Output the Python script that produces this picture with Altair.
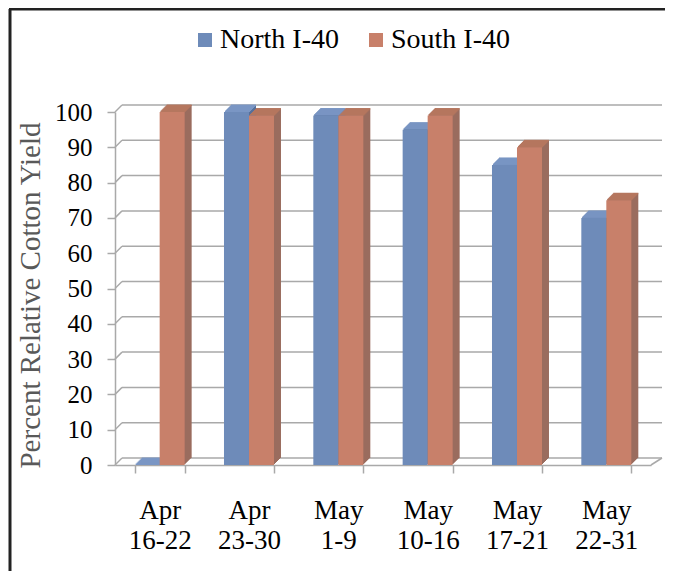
import altair as alt
import pandas as pd

categories = ["Apr 16-22", "Apr 23-30", "May 1-9", "May 10-16", "May 17-21", "May 22-31"]
series = ["North I-40", "South I-40"]
north = [0, 100, 99, 95, 85, 70]
south = [100, 99, 99, 99, 90, 75]
y_ticks = [0, 10, 20, 30, 40, 50, 60, 70, 80, 90, 100]

rows = []
for c, n, s in zip(categories, north, south):
    rows.append({"cat": c, "series": series[0], "value": n})
    rows.append({"cat": c, "series": series[1], "value": s})
df = pd.DataFrame(rows)
grid = pd.DataFrame({"t": y_ticks})
one = pd.DataFrame({"a": [0]})

W, H = 536, 353
DEPTH = 7
GROUP = 50
FONT = "Liberation Serif"
GRID_C = "#a9a9a9"

BLUE, ORANGE = "#6e8bb9", "#c8806a"
BLUE_TOP, ORANGE_TOP = "#7a96c4", "#b5775f"
BLUE_SIDE, ORANGE_SIDE = "#56709a", "#9a6c5e"

is_north = f"datum.series === '{series[0]}'"

yscale = alt.Scale(domain=[0, 100], nice=False, zero=True)
xscale = alt.Scale(paddingInner=0.44, paddingOuter=0.22)

x_axis = alt.Axis(
    title=None, tickBand="extent", labelExpr="split(datum.label, ' ')",
    labelLineHeight=30, labelPadding=24, labelAngle=0, grid=False,
)
y_axis = alt.Axis(
    title="Percent Relative Cotton Yield", values=y_ticks, grid=False,
    labelOverlap=False,
    titleX=-85, titleY=183, titleBaseline="middle", titleAngle=270,
)

base = alt.Chart(df)

def xo(k):
    return alt.XOffset("series:N", sort=series, scale=alt.Scale(range=[k, GROUP + k]))

layers = []

# back wall grid lines
layers.append(
    alt.Chart(grid).mark_rule(color=GRID_C, strokeWidth=1.5, yOffset=-DEPTH).encode(
        y=alt.Y("t:Q", scale=yscale, axis=y_axis),
        x=alt.value(DEPTH), x2=alt.value(W + 11),
    )
)
layers.append(
    alt.Chart(grid).mark_rule(color=GRID_C, strokeWidth=1.5, yOffset=0, y2Offset=-DEPTH).encode(
        y=alt.Y("t:Q", scale=yscale, axis=y_axis), y2="t:Q",
        x=alt.value(0), x2=alt.value(DEPTH),
    )
)
layers.append(
    alt.Chart(grid).transform_filter("datum.t === 0").mark_rule(
        color=GRID_C, strokeWidth=1.5, yOffset=0, y2Offset=-DEPTH).encode(
        y=alt.Y("t:Q", scale=yscale, axis=y_axis), y2="t:Q",
        x=alt.value(W), x2=alt.value(W + 11),
    )
)

# side faces
for k in range(1, DEPTH + 1):
    layers.append(
        base.mark_bar(yOffset=-k, y2Offset=-k).encode(
            x=alt.X("cat:N", sort=categories, scale=xscale, axis=x_axis),
            xOffset=xo(k),
            y=alt.Y("value:Q", scale=yscale, axis=y_axis),
            color=alt.condition(is_north, alt.value(BLUE_SIDE), alt.value(ORANGE_SIDE)),
        )
    )
# top faces
for k in range(1, DEPTH + 1):
    layers.append(
        base.mark_bar(yOffset=-k - 0.5, y2Offset=-k + 1).encode(
            x=alt.X("cat:N", sort=categories, scale=xscale, axis=x_axis),
            xOffset=xo(k),
            y=alt.Y("value:Q", scale=yscale, axis=y_axis),
            y2="value:Q",
            color=alt.condition(is_north, alt.value(BLUE_TOP), alt.value(ORANGE_TOP)),
        )
    )
# front faces
layers.append(
    base.mark_bar().encode(
        x=alt.X("cat:N", sort=categories, scale=xscale, axis=x_axis),
        xOffset=xo(0),
        y=alt.Y("value:Q", scale=yscale, axis=y_axis),
        color=alt.Color(
            "series:N", sort=series,
            scale=alt.Scale(domain=series, range=[BLUE, ORANGE]),
            legend=alt.Legend(
                orient="none", legendX=76, legendY=-86, direction="horizontal",
                title=None, symbolType="square", symbolSize=196, symbolStrokeWidth=0,
                labelFont=FONT, labelFontSize=28, labelColor="black", labelOffset=1,
                columnPadding=23, padding=0,
            ),
        ),
    )
)

# outer frame (left and top)
layers.append(
    alt.Chart(one).mark_rule(color="#222222", strokeWidth=3).encode(
        x=alt.value(-105), y=alt.value(-103), y2=alt.value(470)
    )
)
layers.append(
    alt.Chart(one).mark_rule(color="#222222", strokeWidth=3).encode(
        x=alt.value(-106), x2=alt.value(W + 20), y=alt.value(-103)
    )
)

chart = alt.layer(*layers).resolve_scale(xOffset="independent").properties(
    width=W, height=H,
    autosize=alt.AutoSizeParams(type="none"),
    padding={"left": 107, "top": 104, "right": 14, "bottom": 106},
    background="white",
).configure_view(stroke=None).configure_axis(
    labelFont=FONT, titleFont=FONT, labelColor="black",
    tickSize=8, tickColor=GRID_C, tickWidth=1.5,
    domainColor=GRID_C, domainWidth=1.5,
).configure_axisX(
    labelFontSize=27,
).configure_axisY(
    labelFontSize=25, labelPadding=15,
    titleFontSize=29, titleColor="#595959", titleFontWeight="normal",
)

chart.save("out.html", embed_options={"renderer": "svg", "actions": False})
